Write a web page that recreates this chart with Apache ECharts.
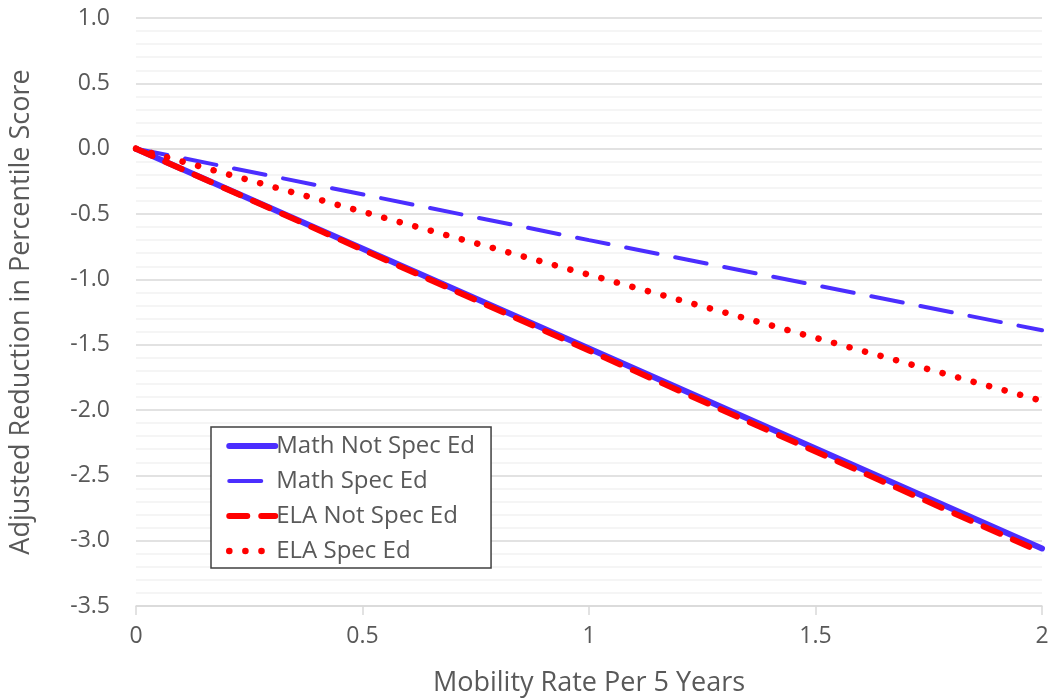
<!DOCTYPE html>
<html><head><meta charset="utf-8">
<script src="https://cdn.jsdelivr.net/npm/echarts@6/dist/echarts.min.js"></script>
<style>html,body{margin:0;padding:0;background:#fff}#c{width:1049px;height:698px}</style>
</head><body><div id="c"></div>
<script>
var xValues = [0, 1, 2];
var mathNotSpecEd = [0, -1.53, -3.06];
var mathSpecEd = [0, -0.70, -1.39];
var elaNotSpecEd = [0, -1.545, -3.09];
var elaSpecEd = [0, -0.965, -1.93];
var seriesNames = ['Math Not Spec Ed', 'Math Spec Ed', 'ELA Not Spec Ed', 'ELA Spec Ed'];

function pairs(vals){ return xValues.map(function(x,i){ return [x, vals[i]]; }); }
var font = '"Open Sans", sans-serif';
var chart = echarts.init(document.getElementById('c'));
chart.setOption({
  animation: false,
  textStyle: {fontFamily: font},
  grid: {left: 136, right: 7, top: 18, bottom: 92, containLabel: false, outerBoundsMode: 'none'},
  xAxis: {
    type: 'value', min: 0, max: 2, interval: 0.5,
    name: 'Mobility Rate Per 5 Years', nameLocation: 'middle', nameGap: 64,
    nameTextStyle: {fontSize: 27, color: '#595959', fontFamily: font},
    axisLine: {show: true, onZero: false, lineStyle: {color: '#d9d9d9', width: 1.5}},
    axisTick: {show: true, length: 9, lineStyle: {color: '#d9d9d9', width: 1.5}},
    axisLabel: {fontSize: 23, color: '#595959', margin: 19, fontFamily: font},
    splitLine: {show: false}
  },
  yAxis: {
    type: 'value', min: -3.5, max: 1.0, interval: 0.5,
    name: 'Adjusted Reduction in Percentile Score', nameLocation: 'middle', nameGap: 101,
    nameTextStyle: {fontSize: 27, color: '#595959', fontFamily: font},
    axisLine: {show: false}, axisTick: {show: false},
    axisLabel: {fontSize: 23, color: '#595959', margin: 26, fontFamily: font,
      formatter: function(v){ return v.toFixed(1); }},
    splitLine: {show: true, lineStyle: {color: '#d9d9d9', width: 1.5}},
    minorTick: {show: false, splitNumber: 5},
    minorSplitLine: {show: true, lineStyle: {color: '#f2f2f2', width: 1.5}}
  },
  legend: {
    orient: 'vertical', left: 211, top: 427,
    backgroundColor: '#fff', borderColor: '#404040', borderWidth: 1.5,
    padding: [7, 16, 5, 15], itemGap: 11, itemWidth: 46, itemHeight: 14,
    itemStyle: {opacity: 0},
    lineStyle: {width: 'inherit'},
    textStyle: {fontSize: 24, color: '#595959', fontFamily: font, padding: [0,0,0,-4]},
    data: seriesNames
  },
  series: [
    {name: seriesNames[0], type: 'line', data: pairs(mathNotSpecEd), showSymbol: false, symbol: 'none',
     lineStyle: {color: '#4b2eff', width: 6, cap: 'round'}, itemStyle: {color: '#4b2eff'}},
    {name: seriesNames[1], type: 'line', data: pairs(mathSpecEd), showSymbol: false, symbol: 'none',
     lineStyle: {color: '#4b2eff', width: 4, type: [32, 18], dashOffset: 0, cap: 'round'}, itemStyle: {color: '#4b2eff'}},
    {name: seriesNames[2], type: 'line', data: pairs(elaNotSpecEd), showSymbol: false, symbol: 'none',
     lineStyle: {color: '#ff0000', width: 6, type: [18, 14], cap: 'round'}, itemStyle: {color: '#ff0000'}},
    {name: seriesNames[3], type: 'line', data: pairs(elaSpecEd), showSymbol: false, symbol: 'none',
     lineStyle: {color: '#ff0000', width: 6.5, type: [0.1, 16], cap: 'round'}, itemStyle: {color: '#ff0000'}}
  ]
});
</script></body></html>
